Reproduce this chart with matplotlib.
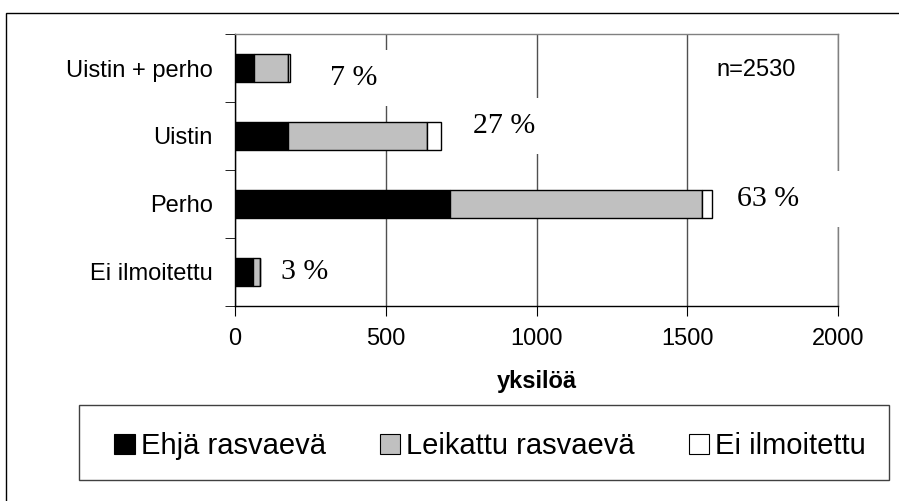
import matplotlib
matplotlib.use("Agg")
import matplotlib.pyplot as plt
from matplotlib.patches import Rectangle, Patch
import numpy as np

categories = ["Uistin + perho", "Uistin", "Perho", "Ei ilmoitettu"]
ehja = [64, 177, 713, 59]
leikattu = [111, 461, 836, 23]
ei_ilm = [6, 44, 34, 0]
pct_labels = ["7 %", "27 %", "63 %", "3 %"]
series_names = ["Ehjä rasvaevä", "Leikattu rasvaevä", "Ei ilmoitettu"]
xticks = [0, 500, 1000, 1500, 2000]
n_text = "n=2530"
xlabel = "yksilöä"

colors = ["#000000", "#C0C0C0", "#FFFFFF"]
sans = ["Liberation Sans", "DejaVu Sans"]
serif = ["Liberation Serif", "DejaVu Serif"]

fig = plt.figure(figsize=(8.99, 5.01), dpi=100)
ax = fig.add_axes([235/899, 1-306/501, 603/899, 272/501])

y = np.arange(len(categories))
left = np.zeros(len(categories))
for vals, c in zip([ehja, leikattu, ei_ilm], colors):
    vals = np.array(vals, dtype=float)
    ax.barh(y, vals, left=left, height=0.4, color=c, edgecolor="black",
            linewidth=1.0, zorder=2)
    left = left + vals
totals = left

ax.set_xlim(0, 2000)
ax.set_ylim(len(categories) - 0.5, -0.5)
ax.set_xticks(xticks)
ax.set_xticklabels([str(t) for t in xticks], fontsize=17, family=sans)
ax.set_yticks(y)
ax.set_yticklabels(categories, fontsize=17, family=sans)
ax.set_yticks(np.arange(-0.5, len(categories), 1.0), minor=True)
ax.tick_params(axis="y", which="major", length=0, pad=16)
ax.tick_params(axis="y", which="minor", length=7, direction="out", color="black")
ax.tick_params(axis="x", which="major", length=7, direction="out", color="black", pad=9)

ax.grid(axis="x", color="#505050", linewidth=1.0, zorder=0)
ax.set_axisbelow(True)
for s in ["top", "right"]:
    ax.spines[s].set_color("#808080")
    ax.spines[s].set_linewidth(1.0)
for s in ["left", "bottom"]:
    ax.spines[s].set_color("black")
    ax.spines[s].set_linewidth(1.0)

ax.set_xlabel(xlabel, fontsize=17, fontweight="bold", family=sans, labelpad=14)

# percentage labels
offsets = [(40, -10), (32, 10), (25, 5), (21, 0)]
label_texts = [pct_labels[0], pct_labels[1], pct_labels[2] + "     ", pct_labels[3]]
for i, (t, off) in enumerate(zip(label_texts, offsets)):
    ax.annotate(t, xy=(totals[i], y[i]), xytext=off, textcoords="offset pixels",
                ha="left", va="center", fontsize=21.5, family=serif, zorder=5,
                bbox=dict(boxstyle="square,pad=0.5", facecolor="white",
                          edgecolor="none"))

ax.text((716-235)/603, (306-70)/272, n_text, transform=ax.transAxes,
        ha="left", va="center", fontsize=17, family=sans)

# outer frame
fig.patches.append(Rectangle((6/899, -0.1), 1.2, 1.1 - 13/501,
                             transform=fig.transFigure, fill=False,
                             edgecolor="black", linewidth=1.0))

# legend frame
fig.patches.append(Rectangle((79/899, 1-480/501), 810/899, 75/501,
                             transform=fig.transFigure, fill=False,
                             edgecolor="#404040", linewidth=1.0))

handles = [Patch(facecolor=c, edgecolor="black", linewidth=0.8) for c in colors]
leg = fig.legend(handles, series_names, loc="center", ncol=3,
                 bbox_to_anchor=(490/899, 1-446/501),
                 prop={"family": sans, "size": 21},
                 frameon=False,
                 handlelength=0.7, handleheight=0.7, handletextpad=0.2,
                 columnspacing=1.85, borderpad=0.8, borderaxespad=0)

fig.savefig("out.png", dpi=100)
